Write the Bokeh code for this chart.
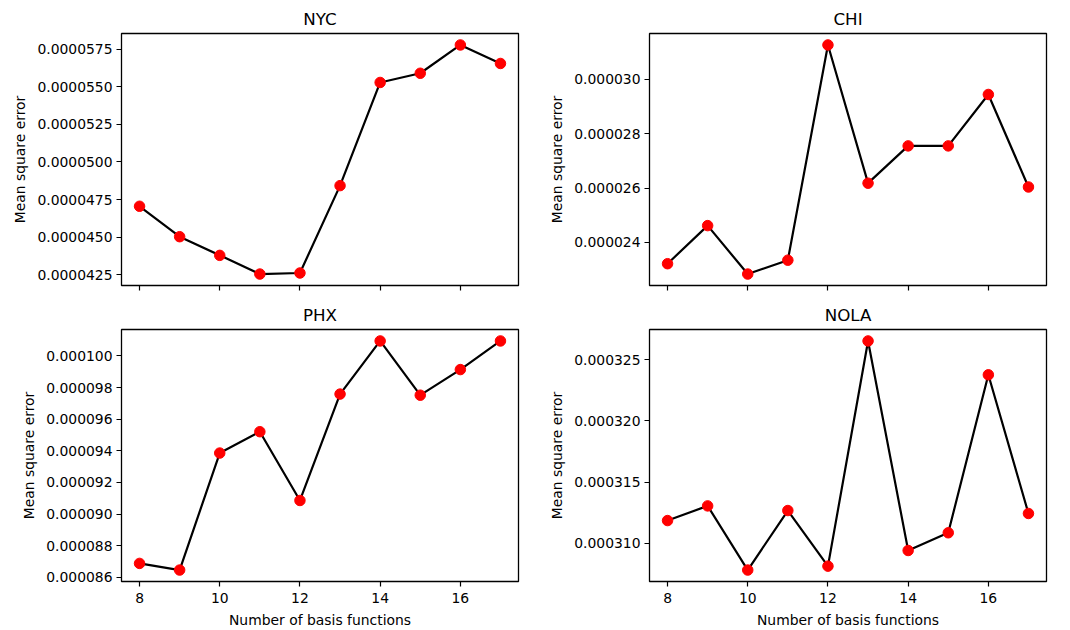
from bokeh.plotting import figure
from bokeh.layouts import gridplot
from bokeh.models import Range1d, FixedTicker, PrintfTickFormatter, CustomJSTickFormatter
from bokeh.embed import file_html
from bokeh.resources import INLINE

basis = [8, 9, 10, 11, 12, 13, 14, 15, 16, 17]
x_ticks = [8, 10, 12, 14, 16]

nyc = [4.706e-5, 4.504e-5, 4.380e-5, 4.256e-5, 4.263e-5, 4.843e-5, 5.528e-5, 5.589e-5, 5.777e-5, 5.654e-5]
chi = [2.322e-5, 2.462e-5, 2.284e-5, 2.335e-5, 3.126e-5, 2.618e-5, 2.755e-5, 2.755e-5, 2.944e-5, 2.604e-5]
phx = [8.688e-5, 8.646e-5, 9.386e-5, 9.521e-5, 9.086e-5, 9.759e-5, 10.095e-5, 9.752e-5, 9.914e-5, 10.095e-5]
nola = [3.1185e-4, 3.1305e-4, 3.0780e-4, 3.1267e-4, 3.0812e-4, 3.2655e-4, 3.0940e-4, 3.1085e-4, 3.2378e-4, 3.1243e-4]

nyc_ticks = [4.25e-5, 4.5e-5, 4.75e-5, 5.0e-5, 5.25e-5, 5.5e-5, 5.75e-5]
chi_ticks = [2.4e-5, 2.6e-5, 2.8e-5, 3.0e-5]
phx_ticks = [8.6e-5, 8.8e-5, 9.0e-5, 9.2e-5, 9.4e-5, 9.6e-5, 9.8e-5, 1.0e-4]
nola_ticks = [3.10e-4, 3.15e-4, 3.20e-4, 3.25e-4]

FONT = "DejaVu Sans"


def pad_range(vals, frac=0.05):
    lo, hi = min(vals), max(vals)
    d = (hi - lo) * frac
    return Range1d(lo - d, hi + d)


def make(title, ys, yticks, fmt, top, left):
    p = figure(
        frame_width=397,
        frame_height=252,
        output_backend="svg",
        toolbar_location=None,
        title=title,
        x_range=pad_range(basis),
        y_range=pad_range(ys),
        background_fill_color="white",
        border_fill_color="white",
    )
    p.min_border_left = 121 if left else 119
    p.min_border_right = 12 if left else 23
    p.min_border_top = 33
    if top:
        p.min_border_bottom = 11
    else:
        p.min_border_bottom = 47
    p.grid.visible = False
    p.outline_line_color = "black"
    p.outline_line_width = 1.3
    p.outline_line_alpha = 1.0

    p.title.text_font = FONT
    p.title.text_font_size = "16.7px"
    p.title.text_font_style = "normal"
    p.title.text_color = "black"
    p.title.align = "center"
    p.title.standoff = 10

    for ax in (p.xaxis[0], p.yaxis[0]):
        ax.axis_line_color = None
        ax.major_tick_line_color = "black"
        ax.major_tick_line_width = 1.2
        ax.major_tick_out = 5
        ax.major_tick_in = 0
        ax.minor_tick_line_color = None
        ax.major_label_text_font = FONT
        ax.major_label_text_font_size = "13.9px"
        ax.major_label_text_color = "black"
        ax.axis_label_text_font = FONT
        ax.axis_label_text_font_size = "13.9px"
        ax.axis_label_text_font_style = "normal"
        ax.axis_label_text_color = "black"

    p.yaxis[0].ticker = FixedTicker(ticks=yticks)
    p.yaxis[0].formatter = PrintfTickFormatter(format=fmt)
    p.yaxis[0].axis_label = "Mean square error"
    p.yaxis[0].major_label_standoff = 4
    p.yaxis[0].axis_label_standoff = 6

    p.xaxis[0].ticker = FixedTicker(ticks=x_ticks)
    if top:
        p.xaxis[0].formatter = CustomJSTickFormatter(code="return ''")
        p.xaxis[0].major_label_standoff = 0
    else:
        p.xaxis[0].axis_label = "Number of basis functions"
        p.xaxis[0].major_label_standoff = 6
        p.xaxis[0].axis_label_standoff = 6

    p.line(basis, ys, line_color="black", line_width=2.2)
    p.scatter(basis, ys, size=10.5, fill_color="red", line_color="red")
    return p


p1 = make("NYC", nyc, nyc_ticks, "%.7f", True, True)
p2 = make("CHI", chi, chi_ticks, "%.6f", True, False)
p3 = make("PHX", phx, phx_ticks, "%.6f", False, True)
p4 = make("NOLA", nola, nola_ticks, "%.6f", False, False)

grid = gridplot([[p1, p2], [p3, p4]], toolbar_location=None)

open("out.html", "w").write(file_html(grid, INLINE))
